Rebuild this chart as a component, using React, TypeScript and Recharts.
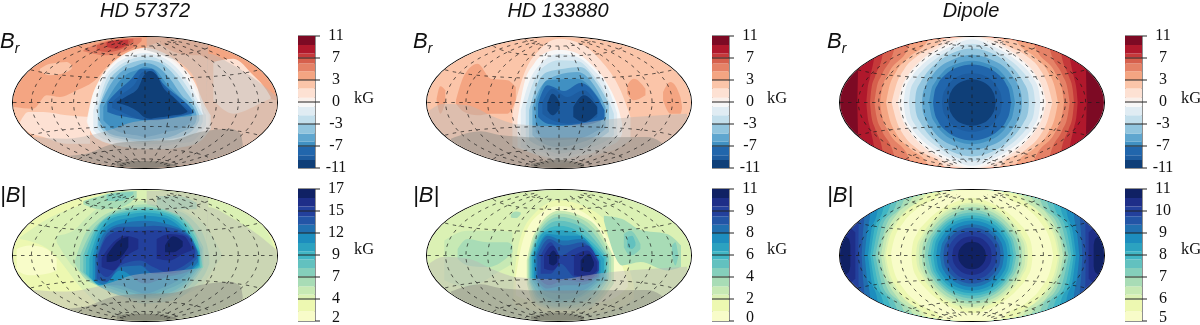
import React from 'react';
import { ComposedChart, BarChart, Area, Line, Bar, XAxis, YAxis, ReferenceLine, ReferenceArea } from 'recharts';

// colours of the two colour bars, top band first
const brColors = ['#7d0a24','#b0182c','#c5393a','#d6604d','#e58267','#f4a582','#fbc5a9','#fde1d3','#f9f0eb','#f7f7f7','#e0ecf3','#c3dfec','#92c5de','#5fa6cf','#4090c2','#2166ac','#1d5ca0','#0f3f78'];
const bColors = ['#102164','#1e2e88','#23409c','#2355a6','#2170b0','#1d8dbe','#2ca2c0','#41b6c4','#62c1bf','#85cfbb','#a8dcb6','#c7e9b4','#dbf1b4','#edf8b1','#f8fcc9'];
// colour-bar band heights, in tick intervals, top band first
const brHeights = [0.41,0.38,0.2,0.26,0.35,0.41,0.38,0.42,0.21,0.2,0.38,0.38,0.45,0.38,0.2,0.41,0.22,0.36];
const bHeights = [0.41,0.38,0.45,0.38,0.38,0.45,0.38,0.38,0.38,0.38,0.45,0.38,0.23,0.53,0.44];
// tick labels, bottom first
const brTicks = ['-11','-7','-3','0','3','7','11'];
const b1Ticks = ['2','4','7','9','12','15','17'];
const b2Ticks = ['0','2','4','6','8','9','11'];
const b3Ticks = ['5','6','7','8','9','10','11'];
const titles = ['HD 57372','HD 133880','Dipole'];
const lats = [-75,-60,-30,0,30,60,75];
const lons = [-150,-120,-90,-60,-30,0,30,60,90,120,150];
// veil styles over the unseen part of the star: colour, opacity
const veilLight = ['#bab8b5', 0.46];
const veilMid = ['#8a8a84', 0.48];
const veilDark = ['#66665c', 0.5];

type Tri = number[];
type Layer = [number, Tri[]];

// contour layers, [colour band, [x, upper edge, lower edge]...] in map units
const m1Br: Layer[] = [
  [5,[[39,110,503],[831,110,503]]],
  [6,[[40,320,503],[100,325,503],[140,285,503],[180,290,503],[230,270,503],[290,235,503],[320,200,503],[435,140,503],[520,120,503],[620,175,503],[700,205,503],[770,245,503],[800,290,503],[831,300,503]]],
  [7,[[60,365,375],[85,335,395],[130,335,410],[200,345,430],[270,350,430]]],
  [6,[[120,205,212],[150,190,225],[200,185,215],[215,195,205]]],
  [5,[[480,115,130],[540,125,160],[590,140,165],[640,160,162]]],
  [4,[[250,150,153],[280,135,160],[320,122,165],[370,115,155],[410,112,135],[425,112,122]]],
  [3,[[290,135,150],[320,125,155],[360,118,148],[400,115,125]]],
  [2,[[320,125,140],[350,120,145],[385,118,130]]],
  [7,[[640,185,300],[700,175,340],[760,225,320],[800,270,300],[812,290,295]]],
  [8,[[260,362,365],[273,300,395],[298,238,418],[328,198,430],[378,158,440],[435,143,447],[492,158,447],[538,190,442],[585,248,432],[612,310,412],[632,345,385]]],
  [9,[[263,360,365],[276,295,400],[302,238,420],[332,198,430],[382,163,440],[435,150,445],[488,163,445],[533,195,440],[580,255,430],[608,315,408],[626,345,380]]],
  [10,[[280,330,390],[300,260,410],[340,198,425],[385,170,435],[435,158,440],[485,170,438],[528,200,430],[572,258,425],[604,320,395],[618,345,375]]],
  [11,[[292,320,385],[320,235,410],[350,202,420],[390,178,428],[435,168,432],[480,178,430],[520,207,425],[560,258,415],[598,325,385],[608,345,365]]],
  [12,[[295,325,375],[325,245,405],[360,205,415],[400,185,422],[435,178,425],[475,185,420],[515,215,415],[555,270,405],[590,325,375],[598,345,360]]],
  [13,[[300,315,365],[330,255,400],[370,210,410],[400,200,415],[435,188,418],[470,198,415],[510,235,410],[545,285,395],[585,330,370],[590,345,355]]],
  [14,[[310,320,360],[345,260,390],[380,222,400],[410,210,405],[435,200,410],[465,208,405],[500,250,395],[540,290,385],[575,330,365]]],
  [15,[[322,305,335],[350,275,345],[390,240,352],[425,205,358],[455,205,360],[490,250,358],[530,285,350],[570,320,342],[582,335,338]]],
  [16,[[336,305,322],[365,282,335],[405,250,352],[428,215,358],[453,212,358],[478,240,356],[510,278,350],[550,315,343],[572,333,338]]],
  [17,[[350,304,308],[385,285,318],[415,262,335],[432,225,350],[450,212,355],[470,225,352],[490,262,350],[520,290,345],[550,320,340],[562,332,335]]],
];
const m1Shade: Tri[][] = [
  [[100,410,503],[200,415,503],[270,405,503],[340,385,503],[400,365,503],[500,355,503],[590,345,503],[612,342,503],[618,300,503],[625,160,503],[700,195,503],[770,240,503],[831,290,503]],
  [[440,110,150],[500,110,170],[550,110,195],[590,110,250],[612,110,342],[618,110,300],[625,110,160]],
  [[150,470,503],[250,462,503],[350,428,503],[430,422,503],[510,420,503],[600,395,503],[690,385,503],[722,400,503],[728,430,470]],
  [[350,488,503],[400,482,503],[470,483,503],[530,495,503]],
];
const m1Veils = [veilLight, veilLight, veilMid, veilDark];
const m1B: Layer[] = [
  [13,[[39,57,453],[831,57,453]]],
  [12,[[60,200,205],[150,140,240],[250,100,360],[350,60,440],[435,57,453],[600,60,453],[700,100,453],[800,180,400],[831,255,300]]],
  [14,[[50,235,300],[90,225,315],[140,235,310],[170,265,300]]],
  [11,[[170,195,215],[220,180,290],[260,140,320],[300,110,350],[435,90,400],[600,150,350],[650,220,280],[665,250,260]]],
  [10,[[250,90,100],[300,75,115],[360,62,110],[410,60,80]]],
  [9,[[320,70,90],[360,65,90],[400,62,70]]],
  [10,[[470,75,100],[530,75,115],[590,95,115]]],
  [10,[[225,270,280],[250,200,320],[290,150,345],[340,120,365],[435,100,400],[520,115,390],[580,150,350],[620,220,300],[628,255,280]]],
  [9,[[240,255,300],[270,190,330],[310,145,355],[360,118,375],[435,108,390],[510,122,380],[570,160,345],[610,230,290]]],
  [8,[[250,255,305],[280,185,335],[320,140,360],[370,122,378],[435,112,385],[505,125,375],[565,165,340],[605,235,290]]],
  [7,[[258,260,310],[288,180,338],[330,138,355],[380,125,372],[435,118,380],[500,128,370],[560,170,335],[600,240,288]]],
  [6,[[268,265,320],[295,185,340],[340,140,350],[390,130,365],[435,125,375],[495,133,360],[555,175,330],[598,245,285]]],
  [5,[[278,260,330],[300,190,345],[350,150,345],[400,140,360],[435,135,370],[490,140,352],[550,180,320],[596,250,282]]],
  [4,[[285,260,330],[310,190,342],[360,160,300],[435,150,340],[500,160,320],[570,195,300],[594,245,275]]],
  [3,[[290,262,325],[320,190,335],[360,168,290],[420,168,285],[460,165,310],[510,170,310],[565,195,290],[590,240,265]]],
  [2,[[295,255,300],[320,200,320],[360,180,285],[420,180,270],[460,178,290],[500,180,305],[560,195,280],[585,235,260]]],
  [1,[[305,262,290],[340,215,300],[375,195,260],[415,205,235]]],
  [1,[[470,205,265],[510,190,270],[550,195,250],[575,230,240]]],
  [0,[[320,255,275],[350,215,270],[385,198,230]]],
  [0,[[495,225,245],[520,197,245],[548,212,228]]],
];
const m2Br: Layer[] = [
  [6,[[78,110,503],[872,110,503]]],
  [5,[[165,300,310],[190,225,335],[230,190,345],[270,235,340],[320,240,340],[345,260,300]]],
  [5,[[107,295,300],[118,258,340],[133,270,305]]],
  [5,[[680,255,280],[700,235,300],[735,265,285]]],
  [5,[[788,275,300],[810,245,340],[840,290,340],[845,320,325]]],
  [7,[[335,340,440],[370,220,450],[420,145,470],[475,115,490],[540,130,480],[600,180,460],[660,270,440],[690,350,420]]],
  [9,[[350,360,440],[370,250,450],[400,190,460],[440,155,470],[475,148,480],[520,155,470],[570,190,460],[620,250,440],[655,330,420],[665,370,400]]],
  [10,[[360,330,440],[385,245,450],[420,190,455],[475,160,470],[530,170,460],[580,210,450],[625,270,430],[650,340,410]]],
  [11,[[375,320,435],[400,240,445],[435,195,450],[475,180,460],[530,182,450],[575,220,440],[620,290,420],[640,340,405]]],
  [12,[[385,330,420],[410,250,435],[440,215,445],[490,205,450],[540,200,445],[590,250,420],[625,310,395]]],
  [13,[[395,320,405],[420,260,425],[470,225,440],[530,215,430],[590,270,405],[615,320,385]]],
  [14,[[405,310,395],[440,240,420],[530,235,415],[600,300,385]]],
  [15,[[412,310,350],[440,255,370],[490,272,375],[540,248,375],[590,290,365],[612,330,355]]],
  [16,[[425,305,340],[455,265,360],[500,290,370],[550,270,365],[590,315,350]]],
  [17,[[440,310,330],[455,280,345],[477,305,325]]],
  [17,[[518,320,350],[550,285,365],[590,320,340]]],
];
const m2Shade: Tri[][] = [
  [[85,330,503],[130,310,503],[200,315,503],[280,350,503],[350,372,503],[470,378,503],[600,360,503],[700,350,503],[860,340,503]],
  [[150,415,503],[240,393,503],[300,405,503],[450,412,503],[740,410,503],[780,425,503],[800,450,470]],
  [[390,490,503],[470,478,503],[550,490,503]],
];
const m2Veils = [veilLight, veilMid, veilDark];
const m2B: Layer[] = [
  [12,[[78,57,453],[872,57,453]]],
  [13,[[338,345,400],[352,230,410],[395,135,420],[475,88,430],[555,108,430],[635,178,420],[682,280,400],[700,345,385]]],
  [14,[[345,320,375],[365,215,385],[415,130,395],[475,105,405],[540,120,405],[608,182,395],[655,260,375],[682,335,350]]],
  [11,[[130,210,330],[200,180,350],[300,180,300],[335,185,280]]],
  [10,[[170,235,265],[200,205,285],[260,215,290],[320,215,260],[335,225,245]]],
  [10,[[330,130,140],[345,122,142],[360,125,130]]],
  [10,[[610,135,150],[665,145,285],[720,178,275],[800,190,300],[842,225,290]]],
  [9,[[670,190,230],[690,180,255],[720,220,235]]],
  [8,[[680,200,230],[695,195,235],[705,215,225]]],
  [9,[[815,225,255],[825,215,285],[833,250,260]]],
  [11,[[378,270,340],[400,190,400],[475,120,420],[540,135,420],[590,170,400],[640,260,340]]],
  [10,[[382,270,340],[405,190,395],[475,128,415],[540,143,410],[590,185,390],[632,260,330]]],
  [9,[[385,265,335],[410,190,390],[475,138,410],[540,155,400],[585,195,380],[625,260,325]]],
  [8,[[388,260,335],[415,190,385],[475,150,400],[540,168,395],[580,205,370],[620,260,325]]],
  [7,[[392,260,335],[420,190,380],[475,165,395],[530,180,385],[575,215,360],[615,260,325]]],
  [6,[[395,255,330],[430,185,375],[475,178,390],[530,190,380],[575,225,350],[610,265,320]]],
  [5,[[400,255,325],[440,190,365],[490,195,370],[535,195,365],[600,270,320]]],
  [4,[[405,255,325],[440,195,355],[490,210,345],[540,205,345],[595,270,320]]],
  [3,[[410,255,320],[445,205,345],[490,225,330],[545,215,335],[590,275,318]]],
  [2,[[420,255,310],[450,215,310],[480,255,280],[520,235,320],[560,225,330],[595,275,300]]],
  [1,[[430,255,295],[455,225,300],[475,255,280]]],
  [1,[[520,255,315],[560,240,320],[590,275,300]]],
  [0,[[445,255,280],[458,240,285],[470,255,275]]],
  [0,[[540,270,300],[565,250,305],[580,275,285]]],
];

// dipole contours, [colour band, [distance from the centre, half height]...], symmetric about the centre
type Half = [number, number[][]];
const m3Br: Half[] = [
  [1,[[0,200],[338,200],[342,92],[344,0]]],
  [2,[[0,200],[285,200],[294,131],[306,75],[314,35],[317,0]]],
  [3,[[0,200],[260,200],[268,145],[290,80],[302,40],[306,0]]],
  [4,[[0,200],[226,200],[234,159],[270,85],[287,40],[293,0]]],
  [5,[[0,200],[180,200],[187,173],[250,88],[270,40],[276,0]]],
  [6,[[0,200],[126,200],[133,185],[189,136],[227,94],[250,40],[258,0]]],
  [7,[[0,200],[78,200],[83,192],[163,140],[202,102],[228,50],[241,0]]],
  [8,[[0,200],[28,196],[100,165],[155,125],[190,85],[213,40],[223,0]]],
  [9,[[0,197],[67,174],[120,146],[162,113],[191,77],[209,39],[214,0]]],
  [10,[[0,190],[65,168],[115,140],[155,108],[183,74],[200,38],[205,0]]],
  [11,[[0,176],[62,158],[110,130],[145,100],[170,68],[185,35],[189,0]]],
  [12,[[0,162],[60,148],[105,120],[135,90],[155,60],[168,30],[171,0]]],
  [13,[[0,143],[55,130],[95,108],[122,78],[140,48],[148,24],[150,0]]],
  [14,[[0,125],[45,116],[85,94],[110,62],[122,38],[129,0]]],
  [15,[[0,114],[45,105],[80,83],[102,56],[113,28],[117,0]]],
  [16,[[0,88],[36,81],[63,63],[78,43],[87,23],[90,0]]],
  [17,[[0,70],[28,64],[50,50],[62,34],[68,19],[71,0]]],
];
const m3BLens: Layer[] = [
  [1,[[350,-70,70],[361,-81,81],[396,-200,200]]],
  [0,[[365,-32,32],[369,-49,49],[378,-58,58],[396,-200,200]]],
];
const m3B: Half[] = [
  [3,[[0,200],[337,200],[340,100],[341,0]]],
  [4,[[0,200],[318,200],[323,114],[328,55],[331,0]]],
  [5,[[0,200],[298,200],[305,125],[316,60],[322,0]]],
  [6,[[0,200],[275,200],[283,137],[303,68],[312,0]]],
  [7,[[0,200],[257,200],[265,146],[294,72],[305,0]]],
  [8,[[0,200],[238,200],[245,154],[283,78],[298,0]]],
  [9,[[0,200],[218,200],[225,162],[272,80],[290,0]]],
  [10,[[0,200],[197,200],[204,168],[260,83],[282,0]]],
  [11,[[0,200],[170,200],[177,176],[222,128],[250,85],[266,40],[273,0]]],
  [12,[[0,200],[145,200],[152,181],[205,130],[238,88],[257,40],[264,0]]],
  [13,[[0,200],[130,200],[136,185],[195,135],[228,92],[251,40],[259,0]]],
  [14,[[0,200],[85,200],[90,191],[165,140],[205,100],[236,40],[244,0]]],
  [13,[[0,173],[62,155],[108,128],[140,98],[165,66],[178,34],[182,0]]],
  [12,[[0,159],[58,146],[103,118],[133,88],[152,58],[165,29],[168,0]]],
  [11,[[0,154],[56,141],[100,112],[128,82],[147,54],[158,27],[160,0]]],
  [10,[[0,146],[55,133],[95,108],[122,78],[141,50],[149,25],[151,0]]],
  [9,[[0,137],[52,125],[90,100],[115,72],[132,45],[139,24],[141,0]]],
  [8,[[0,129],[50,118],[88,94],[112,64],[124,42],[133,0]]],
  [7,[[0,121],[48,112],[85,88],[107,60],[119,34],[125,0]]],
  [6,[[0,113],[46,104],[81,81],[101,56],[111,32],[116,0]]],
  [5,[[0,105],[43,96],[75,75],[93,52],[103,29],[107,0]]],
  [4,[[0,94],[38,86],[67,67],[84,46],[92,26],[96,0]]],
  [3,[[0,84],[34,77],[60,60],[75,41],[83,24],[86,0]]],
  [2,[[0,73],[30,67],[52,52],[64,36],[71,20],[74,0]]],
  [1,[[0,58],[24,53],[41,41],[51,29],[57,16],[59,0]]],
  [0,[[0,41],[17,38],[29,29],[36,20],[40,11],[42,0]]],
];

const rows = (t: Tri[]) => t.map(([x, a, b]) => ({ x, r: [a, b] }));
const mirror = (h: number[][]): Tri[] => [
  ...h.slice(1).reverse().map(([x, v]) => [-x, -v, v]),
  ...h.map(([x, v]) => [x, -v, v]),
];
const lift = (s: Tri[][], dy: number) => s.map((p) => p.map(([x, a, b]) => [x, a - dy, b - dy]));

// graticule in the Hammer projection
const hammer = (lat: number, lon: number) => {
  const p = (lat * Math.PI) / 180, l = (lon * Math.PI) / 360;
  const z = Math.sqrt(1 + Math.cos(p) * Math.cos(l));
  return [(Math.cos(p) * Math.sin(l)) / z, Math.sin(p) / z];
};
const steps = Array.from({ length: 37 }, (_, i) => i * 5);
const graticule = (cx: number, cy: number) => {
  const toRow = ([X, Y]: number[]) => ({ x: cx + X * 396, y: cy - Y * 196.5 });
  return [
    ...lats.map((la) => steps.map((s) => toRow(hammer(la, s * 2 - 180)))),
    ...lons.map((lo) => steps.map((s) => toRow(hammer(((s - 90) * 80) / 90, lo)))),
  ];
};

const DASH = '3.5 4.5';

function MapPanel({ left, top, x, y, layers, shades, veils, palette }: any) {
  const w = 264, h = 131;
  const cx = (x[0] + x[1]) / 2, cy = (y[0] + y[1]) / 2;
  return (
    <div style={{ position: 'absolute', left, top, width: w, height: h, borderRadius: '50%', overflow: 'hidden', border: '1px solid #000', boxSizing: 'content-box' }}>
      <ComposedChart width={w} height={h} margin={{ top: 0, right: 0, bottom: 0, left: 0 }} data={[]}>
        <XAxis type="number" dataKey="x" domain={x} hide allowDataOverflow />
        <YAxis type="number" domain={y} reversed hide allowDataOverflow width={0} />
        {layers.map(([lv, pts]: Layer, i: number) => (
          <Area key={'a' + i} data={rows(pts)} dataKey="r" type="monotoneX" fill={palette[lv]} fillOpacity={1} stroke="none" dot={false} activeDot={false} isAnimationActive={false} />
        ))}
        {shades.map((pts: Tri[], i: number) => (
          <Area key={'s' + i} data={rows(pts)} dataKey="r" type="monotoneX" fill={veils[i][0]} fillOpacity={veils[i][1]} stroke="none" dot={false} activeDot={false} isAnimationActive={false} />
        ))}
        {graticule(cx, cy).map((g, i) => (
          <Line key={'g' + i} data={g} dataKey="y" stroke="#1a1a1a" strokeWidth={0.7} strokeDasharray={DASH} dot={false} activeDot={false} isAnimationActive={false} />
        ))}
      </ComposedChart>
    </div>
  );
}

function ColorBar({ left, top, colors, heights, ticks, raiseLast = 0 }: any) {
  const row: any = { c: 0 };
  const order = colors.map((_: string, i: number) => colors.length - 1 - i);
  order.forEach((k: number) => { row['b' + k] = heights[k]; });
  const w = 62, h = 152;
  return (
    <div style={{ position: 'absolute', left, top: top - 9, width: w, height: h }}>
      <BarChart width={w} height={h} data={[row]} margin={{ top: 10, right: 0, bottom: 10, left: 0 }} barCategoryGap={0}>
        <XAxis dataKey="c" hide />
        <YAxis orientation="right" type="number" domain={[0, 6]} ticks={[0, 1, 2, 3, 4, 5, 6]} interval={0} width={45} allowDataOverflow axisLine={false} tickLine={{ stroke: '#222', strokeWidth: 1 }} tickSize={5}
          tick={({ x, y, payload }: any) => (
            <text x={x + 14} y={y + 3.5 - (payload.value === 0 ? raiseLast : 0)} textAnchor="middle" fontFamily="'Liberation Serif', serif" fontSize={16} fill="#111">{ticks[payload.value]}</text>
          )} />
        {order.map((k: number) => (
          <Bar key={k} dataKey={'b' + k} stackId="s" fill={colors[k]} stroke="none" isAnimationActive={false} />
        ))}
        {[1, 2, 3, 4, 5].map((v) => (
          <ReferenceLine key={v} y={v} stroke="#222" strokeWidth={1} />
        ))}
        <ReferenceArea y1={0} y2={6} fill="none" stroke="#222" strokeWidth={1} ifOverflow="visible" />
      </BarChart>
    </div>
  );
}

const txt = (left: number, top: number, s: any, style: any = {}) => (
  <div style={{ position: 'absolute', left, top, whiteSpace: 'nowrap', lineHeight: 1, ...style }}>{s}</div>
);
const sans = { fontFamily: "'Liberation Sans', sans-serif", fontStyle: 'italic', color: '#111' };
const serif = { fontFamily: "'Liberation Serif', serif", fontSize: 16.5, color: '#111' };

export default function App() {
  const cols = [
    { mx: 12, bx: 297.5, kx: 354, b1: m1Br, s1: m1Shade, r: m1B, s2: lift(m1Shade, 51), v: m1Veils, xd: [39, 831], t: b1Ticks },
    { mx: 426, bx: 711.5, kx: 767, b1: m2Br, s1: m2Shade, r: m2B, s2: lift(m2Shade, 51), v: m2Veils, xd: [78, 872], t: b2Ticks },
  ];
  return (
    <div style={{ position: 'absolute', left: 0, top: 0, width: 1200, height: 325, overflow: 'hidden', background: '#fff', filter: 'blur(0.45px)' }}>
      {cols.map((c, i) => (
        <React.Fragment key={i}>
          <MapPanel left={c.mx} top={36} x={c.xd} y={[110, 503]} layers={c.b1} shades={c.s1} veils={c.v} palette={brColors} />
          <MapPanel left={c.mx} top={189} x={c.xd} y={[57, 453]} layers={c.r} shades={c.s2} veils={c.v} palette={bColors} />
          <ColorBar left={c.bx} top={35} colors={brColors} heights={brHeights} ticks={brTicks} />
          <ColorBar left={c.bx} top={188} colors={bColors} heights={bHeights} ticks={c.t} raiseLast={3} />
          {txt(c.kx, 90, 'kG', serif)}
          {txt(c.kx, 241, 'kG', serif)}
        </React.Fragment>
      ))}
      <MapPanel left={839} top={36} x={[-396, 396]} y={[-196.5, 196.5]} palette={brColors} shades={[]} veils={[]}
        layers={[[0, [[-396, -200, 200], [396, -200, 200]]], ...m3Br.map(([l, h]) => [l, mirror(h)])]} />
      <MapPanel left={839} top={189} x={[-396, 396]} y={[-196.5, 196.5]} palette={bColors} shades={[]} veils={[]}
        layers={[
          [2, [[-396, -200, 200], [396, -200, 200]]],
          ...m3BLens,
          ...m3BLens.map(([l, p]) => [l, p.map(([x, a, b]) => [-x, a, b]).reverse()]),
          ...m3B.map(([l, h]) => [l, mirror(h)]),
        ]} />
      <ColorBar left={1124.5} top={35} colors={brColors} heights={brHeights} ticks={brTicks} />
      <ColorBar left={1124.5} top={188} colors={bColors} heights={bHeights} ticks={b3Ticks} raiseLast={3} />
      {txt(1181, 90, 'kG', serif)}
      {txt(1181, 241, 'kG', serif)}
      {titles.map((t, i) => (
        <div key={t} style={{ position: 'absolute', left: [145, 558, 971][i] - 100, width: 200, top: -1, textAlign: 'center', fontSize: 20, ...sans }}>{t}</div>
      ))}
      {[0, 413, 827].map((x) => (
        <React.Fragment key={x}>
          {txt(x, 30, <span>B<sub style={{ fontSize: 14, verticalAlign: 'sub', lineHeight: 0 }}>r</sub></span>, { fontSize: 22, ...sans })}
          {txt(x, 184, '|B|', { fontSize: 22, ...sans })}
        </React.Fragment>
      ))}
    </div>
  );
}
